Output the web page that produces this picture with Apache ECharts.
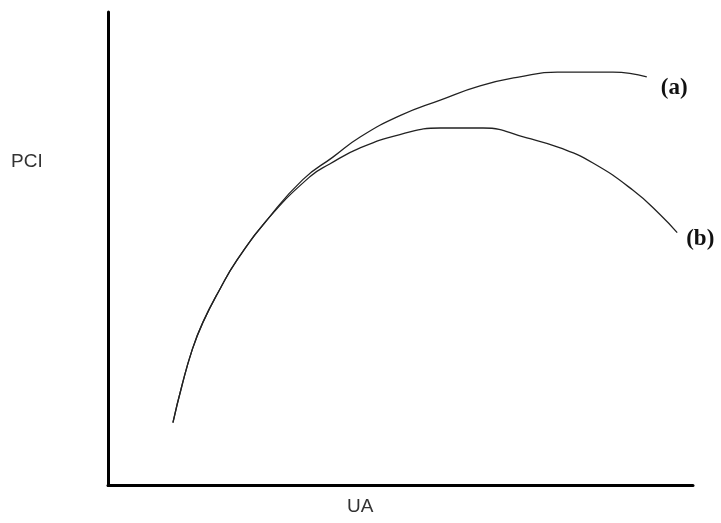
<!DOCTYPE html>
<html>
<head>
<meta charset="utf-8">
<script src="https://cdn.jsdelivr.net/npm/echarts@6/dist/echarts.min.js"></script>
<style>
  html, body { margin: 0; padding: 0; background: #fff; }
  #chart { width: 721px; height: 523px; }
</style>
</head>
<body>
<div id="chart"></div>
<script>
// curve (a): PCI keeps rising then levels off
const curveA = [
  [11.1, 13.3], [12.6, 20.9], [14.4, 28.7], [16.2, 34.4], [19.1, 41.4],
  [22.1, 47.7], [27.2, 56.1], [33.3, 64.6], [38.5, 69.4], [43.1, 73.6],
  [49.9, 78.1], [56.8, 81.4], [63.6, 84.4], [70.4, 86.3], [76.8, 87.3],
  [86.3, 87.3], [92.1, 86.3]
]

// curve (b): same start, peaks earlier and falls
const curveB = [
  [11.1, 13.3], [12.6, 20.9], [14.4, 28.7], [16.2, 34.4], [19.1, 41.4],
  [22.1, 47.7], [27.2, 56.1], [34.5, 65.2], [37.9, 67.9], [43.1, 71.3],
  [49.9, 74.1], [56.8, 75.5], [64.1, 75.5], [71.6, 73.4], [77.3, 71.3],
  [82.9, 68.1], [89.7, 62.4], [94.4, 57.2], [97.3, 53.4]
]

const seriesNames = ['(a)', '(b)']
const axisNames = ['UA', 'PCI']

const chart = echarts.init(document.getElementById('chart'))

const lineStyle = { color: '#222', width: 1.3 }
const labelFont = {
  fontFamily: '"Liberation Serif", "DejaVu Serif", serif',
  fontWeight: 'bold',
  fontSize: 23,
  color: '#111',
}
const axisFont = {
  fontFamily: '"Liberation Sans", Arial, sans-serif',
  fontSize: 19,
  fill: '#333',
}

chart.setOption({
  animation: false,
  grid: { left: 108, right: 28, top: 12, bottom: 37.5 },
  xAxis: {
    type: 'value',
    min: 0,
    max: 100,
    axisLine: { show: true, lineStyle: { color: '#000', width: 3 } },
    axisTick: { show: false },
    axisLabel: { show: false },
    splitLine: { show: false },
  },
  yAxis: {
    type: 'value',
    min: 0,
    max: 100,
    axisLine: { show: true, lineStyle: { color: '#000', width: 3 } },
    axisTick: { show: false },
    axisLabel: { show: false },
    splitLine: { show: false },
  },
  graphic: [
    { type: 'text', left: 11, top: 152, style: { text: axisNames[1], ...axisFont } },
    { type: 'text', left: 347, top: 497, style: { text: axisNames[0], ...axisFont } },
  ],
  series: [
    {
      name: seriesNames[0],
      type: 'line',
      data: curveA,
      smooth: true,
      showSymbol: false,
      lineStyle,
      endLabel: { show: true, formatter: seriesNames[0], distance: 14, offset: [0, 11], ...labelFont },
    },
    {
      name: seriesNames[1],
      type: 'line',
      data: curveB,
      smooth: true,
      showSymbol: false,
      lineStyle,
      endLabel: { show: true, formatter: seriesNames[1], distance: 9, offset: [0, 6], ...labelFont },
    },
  ],
})
</script>
</body>
</html>
